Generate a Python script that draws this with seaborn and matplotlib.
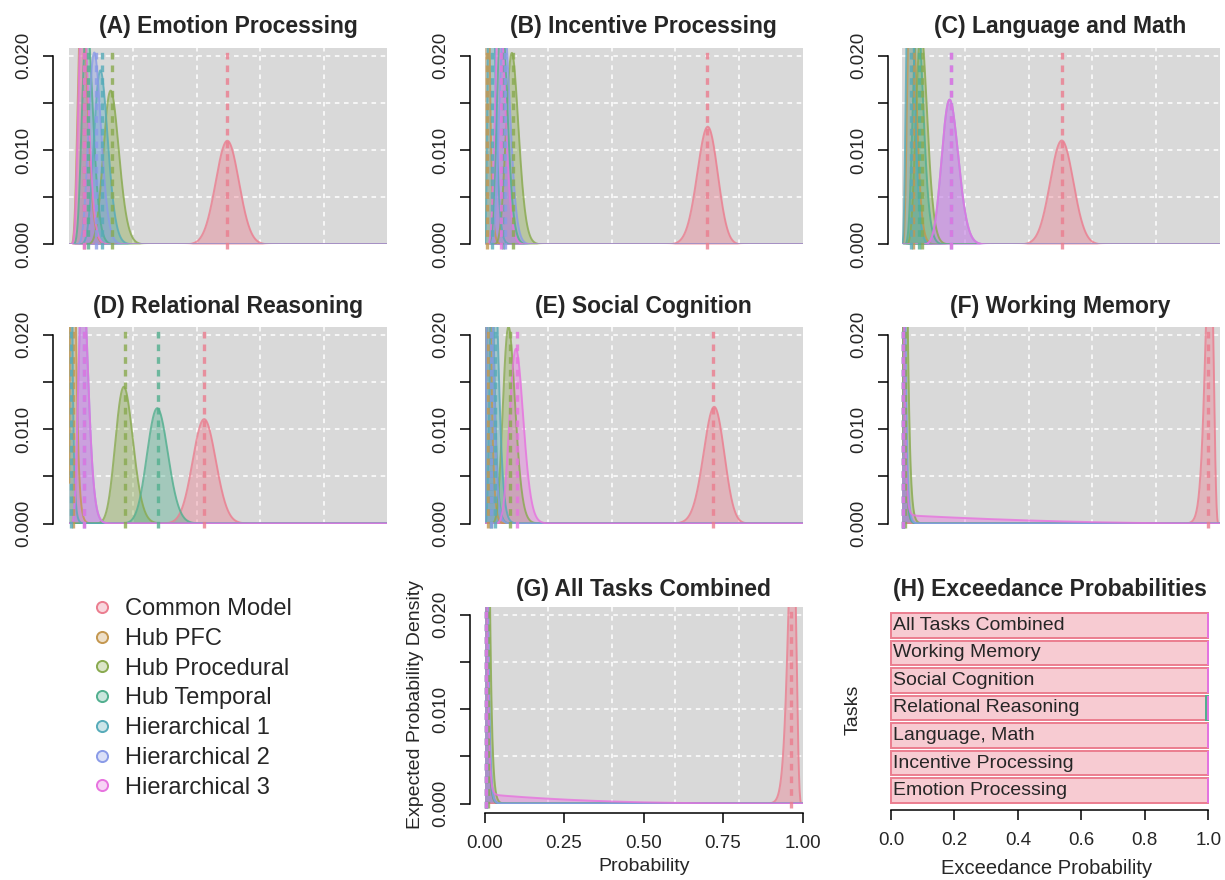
import math
import numpy as np
import pandas as pd
import matplotlib
matplotlib.use("Agg")
import matplotlib.pyplot as plt
from matplotlib.lines import Line2D
import seaborn as sns

# ---------------- data ----------------
models = ["Common Model", "Hub PFC", "Hub Procedural", "Hub Temporal",
          "Hierarchical 1", "Hierarchical 2", "Hierarchical 3"]

titles = ["(A) Emotion Processing", "(B) Incentive Processing", "(C) Language and Math",
          "(D) Relational Reasoning", "(E) Social Cognition", "(F) Working Memory",
          "(G) All Tasks Combined"]

# posterior expected model probabilities (order of `models`)
mean_A = [0.497, 0.045, 0.134, 0.060, 0.102, 0.083, 0.047]
mean_B = [0.700, 0.009, 0.090, 0.058, 0.024, 0.066, 0.052]
mean_C = [0.504, 0.035, 0.066, 0.055, 0.030, 0.155, 0.155]
mean_D = [0.425, 0.013, 0.175, 0.279, 0.004, 0.047, 0.047]
mean_E = [0.720, 0.012, 0.080, 0.020, 0.033, 0.019, 0.103]
mean_F = [0.965, 0.004, 0.012, 0.004, 0.005, 0.006, 0.004]
mean_G = [0.964, 0.004, 0.010, 0.004, 0.005, 0.005, 0.004]
panel_means = [mean_A, mean_B, mean_C, mean_D, mean_E, mean_F, mean_G]

# Dirichlet concentration per panel
concentration = [190, 205, 191, 188, 193, 190, 190]
# broad tail of Hierarchical 3 (weight, beta shape b of Beta(1, b))
tail_weight_hier3 = [0, 0, 0, 0, 0, 0.30, 0.25]
tail_shape_hier3 = [3, 3, 3, 3, 3, 3, 4]

# exceedance probabilities, panel H
tasks_H = ["Emotion Processing", "Incentive Processing", "Language, Math",
           "Relational Reasoning", "Social Cognition", "Working Memory",
           "All Tasks Combined"]
exceed_common = [1.0, 1.0, 1.0, 0.993, 1.0, 1.0, 1.0]
exceed_hub_pfc = [0, 0, 0, 0, 0, 0, 0]
exceed_hub_procedural = [0, 0, 0, 0, 0, 0, 0]
exceed_hub_temporal = [0, 0, 0, 0.007, 0, 0, 0]
exceed_hier1 = [0, 0, 0, 0, 0, 0, 0]
exceed_hier2 = [0, 0, 0, 0, 0, 0, 0]
exceed_hier3 = [0, 0, 0, 0, 0, 0, 0]
exceed_all = [exceed_common, exceed_hub_pfc, exceed_hub_procedural, exceed_hub_temporal,
              exceed_hier1, exceed_hier2, exceed_hier3]

# ---------------- style ----------------
sns.set_style("white")
plt.rcParams["font.family"] = ["Liberation Sans", "DejaVu Sans"]
palette = sns.husl_palette(7, s=0.75, l=0.66)
GREY = "#D9D9D9"

W, H = 1225, 880
fig = plt.figure(figsize=(W / 100, H / 100), dpi=100)


def axes_px(left, top, width, height):
    return fig.add_axes([left / W, 1 - (top + height) / H, width / W, height / H])


def beta_pdf(x, a, b):
    lb = math.lgamma(a) + math.lgamma(b) - math.lgamma(a + b)
    return np.exp((a - 1) * np.log(x) + (b - 1) * np.log1p(-x) - lb)


xg = np.linspace(0, 1, 1001)
xc = np.clip(xg, 5e-4, 1 - 5e-4)
dx = 0.001
YTOP = 0.0208

col_left = [69.3, 484.5, 901.5]
col_spine_off = [11.5, 10.4, 9.4]
row_top = [48, 327, 607]
row_base = [33, 313, 596]
PW, PH = 318, 196.5

positions = [(0, 0), (0, 1), (0, 2), (1, 0), (1, 1), (1, 2), (2, 1)]

for p, (r, c) in enumerate(positions):
    ax = axes_px(col_left[c], row_top[r], PW, PH)
    ax.set_facecolor(GREY)
    ax.set_xlim(0, 1)
    ax.set_ylim(0, YTOP)
    for gx in [0.2, 0.4, 0.6, 0.8]:
        ax.axvline(gx, color="white", lw=1.1, ls=(0, (3, 3)), zorder=0.5)
    for gy in [0.005, 0.01, 0.015, 0.02]:
        ax.axhline(gy, color="white", lw=1.1, ls=(0, (3, 3)), zorder=0.5)

    means = panel_means[p]
    k = concentration[p]
    rows = []
    for i, m in enumerate(means):
        dens = beta_pdf(xc, m * k, (1 - m) * k)
        if i == 6 and tail_weight_hier3[p] > 0:
            w = tail_weight_hier3[p]
            dens = (1 - w) * dens + w * beta_pdf(xc, 1.0, tail_shape_hier3[p])
        dens = dens * dx
        ax.fill_between(xg, 0, dens, color=palette[i], alpha=0.4, lw=0, zorder=1)
        rows.append(pd.DataFrame({"x": xg, "density": dens, "model": models[i]}))
    df = pd.concat(rows, ignore_index=True)
    sns.lineplot(data=df, x="x", y="density", hue="model", hue_order=models,
                 palette=palette, estimator=None, legend=False, lw=1.4, alpha=0.8,
                 ax=ax, zorder=2)
    for i, m in enumerate(means):
        ax.plot([m, m], [-0.0005, 0.0205], color=palette[i], lw=2.4, alpha=0.8,
                ls=(0, (2.0, 1.8)), clip_on=False, zorder=3, solid_capstyle="butt")

    for s in ["top", "right"]:
        ax.spines[s].set_visible(False)
    ax.spines["left"].set_position(("outward", col_spine_off[c]))
    ax.spines["left"].set_bounds(0, 0.02)
    ax.spines["left"].set_color("black")
    ax.spines["left"].set_linewidth(1.1)
    ax.set_yticks([0, 0.005, 0.01, 0.015, 0.02])
    ax.set_yticklabels(["0.000", "", "0.010", "", "0.020"])
    ax.tick_params(axis="y", left=True, length=7.2, width=1.1, pad=8.0,
                   labelsize=13.5, labelrotation=90, color="black")
    for t in ax.get_yticklabels():
        t.set_va("center")
    ax.set_xlabel("")
    ax.set_ylabel("")
    if p == 6:
        ax.spines["bottom"].set_position(("outward", 6.5))
        ax.spines["bottom"].set_bounds(0, 1)
        ax.spines["bottom"].set_linewidth(1.1)
        ax.spines["bottom"].set_color("black")
        ax.set_xticks([0, 0.25, 0.5, 0.75, 1.0])
        ax.set_xticklabels(["0.00", "0.25", "0.50", "0.75", "1.00"])
        ax.tick_params(axis="x", bottom=True, length=7.2, width=1.1, pad=9,
                       labelsize=13.5, color="black")
    else:
        ax.spines["bottom"].set_visible(False)
        ax.set_xticks([])
    fig.text((col_left[c] + PW / 2) / W, 1 - row_base[r] / H, titles[p],
             ha="center", va="baseline", fontsize=16.5, fontweight="bold")

# axis labels for panel G
fig.text(416 / W, 1 - 704 / H, "Expected Probability Density", rotation=90,
         ha="center", va="center", fontsize=14)
fig.text(644 / W, 1 - 866 / H, "Probability", ha="center", va="center", fontsize=14)

# ---------------- panel H ----------------
axh = axes_px(891, 613, 317.3, 190)
ypos = np.arange(len(tasks_H))
left = np.zeros(len(tasks_H))
for i, vals in enumerate(exceed_all):
    vals = np.array(vals, dtype=float)
    bars = axh.barh(ypos, vals, left=left, height=0.9,
                    facecolor=(*palette[i], 0.4), edgecolor=palette[i], lw=1.4)
    for b in bars:
        b.set_clip_on(False)
    left = left + vals
for yv, name in zip(ypos, tasks_H):
    axh.text(0.006, yv, name, ha="left", va="center", fontsize=14)
axh.set_xlim(0, 1)
axh.set_ylim(-0.45, 6.45)
axh.set_facecolor("white")
for s in ["top", "right", "left"]:
    axh.spines[s].set_visible(False)
axh.spines["bottom"].set_position(("outward", 5))
axh.spines["bottom"].set_bounds(0, 1)
axh.spines["bottom"].set_linewidth(1.1)
axh.spines["bottom"].set_color("black")
axh.set_yticks([])
axh.set_xticks([0, 0.2, 0.4, 0.6, 0.8, 1.0])
axh.set_xticklabels(["0.0", "0.2", "0.4", "0.6", "0.8", "1.0"])
axh.tick_params(axis="x", bottom=True, length=7.2, width=1.1, pad=9,
                labelsize=13.5, color="black")
fig.text((891 + 317.3 / 2) / W, 1 - row_base[2] / H, "(H) Exceedance Probabilities",
         ha="center", va="baseline", fontsize=16.5, fontweight="bold")
fig.text(853 / W, 1 - 710 / H, "Tasks", rotation=90, ha="center", va="center",
         fontsize=14)
fig.text(1047 / W, 1 - 868 / H, "Exceedance Probability", ha="center", va="center",
         fontsize=14.5)

# ---------------- legend ----------------
handles = [Line2D([], [], marker="o", ls="", markersize=8,
                  markerfacecolor=(*palette[i], 0.3), markeredgecolor=palette[i],
                  markeredgewidth=1.4) for i in range(7)]
fig.legend(handles, models, loc="upper left", bbox_to_anchor=(89.9 / W, 1 - 598 / H),
           frameon=False, fontsize=17, borderpad=0, handlelength=1.0,
           handletextpad=0.49, labelspacing=0.33, borderaxespad=0)

fig.savefig("out.png", dpi=100)
